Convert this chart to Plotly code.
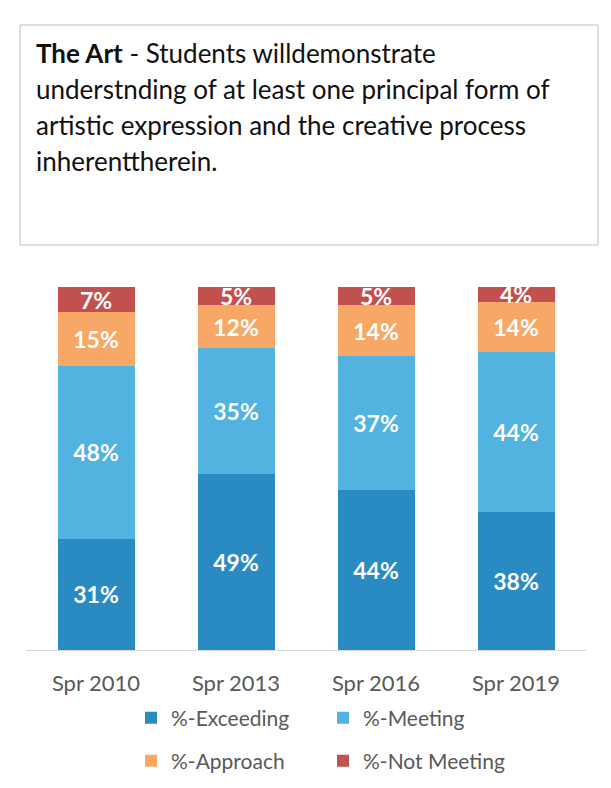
import plotly.graph_objects as go

categories = ["Spr 2010", "Spr 2013", "Spr 2016", "Spr 2019"]
exceeding = [31, 49, 44, 38]
meeting = [48, 35, 37, 44]
approach = [15, 12, 14, 14]
not_meeting = [7, 5, 5, 4]

series = [
    ("%-Exceeding", exceeding, "#2A8BC2", "legend"),
    ("%-Meeting", meeting, "#52B2E0", "legend"),
    ("%-Approach", approach, "#F7A866", "legend2"),
    ("%-Not Meeting", not_meeting, "#C2504F", "legend2"),
]

title_lines = [
    "<b>The Art</b> - Students willdemonstrate",
    "understnding of at least one principal form of",
    "artistic expression and the creative process",
    "inherenttherein.",
]

FONT = "Lato"
W, H = 611, 788
L, R, T, B = 26, 25, 287, 138
PW, PH = W - L - R, H - T - B


def px_x(x):
    return (x - L) / PW


def px_y(y):
    return (H - B - y) / PH


fig = go.Figure()
for name, vals, color, lg in series:
    fig.add_trace(go.Bar(
        x=categories, y=vals, name=name, legend=lg,
        marker=dict(color=color, line=dict(width=0)),
        text=[f"{v}%" for v in vals], textposition="inside",
        insidetextanchor="middle", textangle=0,
        textfont=dict(family=FONT, size=23, color="white", weight="bold"),
    ))

legend_common = dict(orientation="h", xanchor="left", yanchor="middle",
                     entrywidth=147, font=dict(size=21, color="#595959", family=FONT),
                     itemwidth=30, tracegroupgap=0, traceorder="normal",
                     bgcolor="rgba(0,0,0,0)")

fig.update_layout(
    width=W, height=H, barmode="stack", barnorm="percent", bargap=0.45,
    margin=dict(l=L, r=R, t=T, b=B, autoexpand=False),
    paper_bgcolor="white", plot_bgcolor="white",
    uniformtext=dict(minsize=23, mode="show"),
    font=dict(family=FONT, color="#595959"),
    xaxis=dict(showline=True, linecolor="#D9D9D9", linewidth=1, ticks="",
               ticklabelstandoff=14, automargin=False,
               tickfont=dict(size=22, color="#595959", family=FONT)),
    yaxis=dict(visible=False, range=[0, 100], showgrid=False, automargin=False),
    legend=dict(x=px_x(131), y=px_y(718), **legend_common),
    legend2=dict(x=px_x(131), y=px_y(761), **legend_common),
    showlegend=True,
)

fig.add_shape(type="rect", xref="paper", yref="paper",
              x0=px_x(20), x1=px_x(598), y0=px_y(245), y1=px_y(25),
              line=dict(color="#BFBFBF", width=1), fillcolor="rgba(0,0,0,0)")

for i, line in enumerate(title_lines):
    fig.add_annotation(xref="paper", yref="paper", x=px_x(34), y=px_y(53 + 36 * i),
                       xanchor="left", yanchor="middle", showarrow=False, text=line,
                       font=dict(family=FONT, size=26, color="#111111"))

fig.write_html("out.html")
